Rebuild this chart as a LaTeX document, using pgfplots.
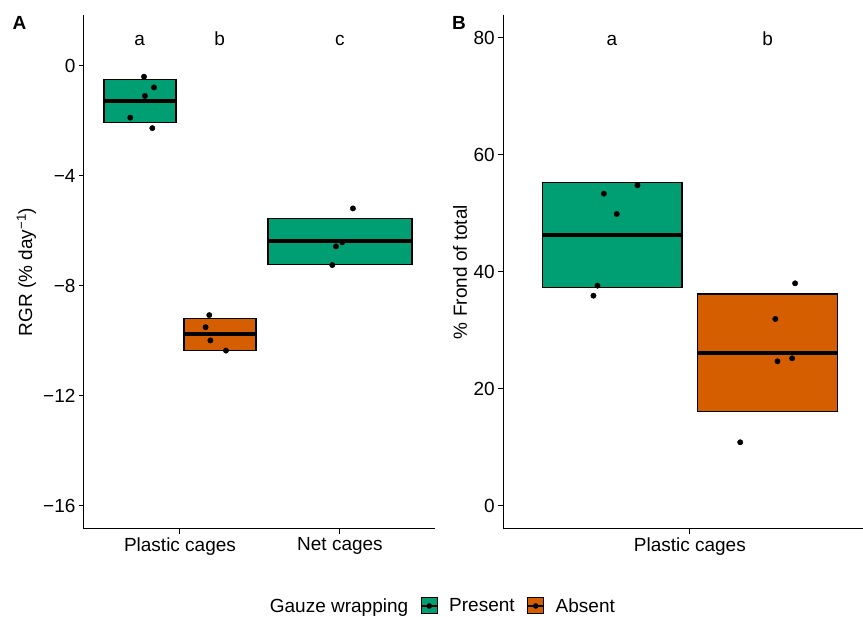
\documentclass[border=0pt]{standalone}
\usepackage{fontspec}
\setmainfont{Liberation Sans}
\usepackage{pgfplots}
\pgfplotsset{compat=1.18}
\definecolor{okgreen}{HTML}{009E73}
\definecolor{okorange}{HTML}{D55E00}
\newcommand{\fs}{\fontsize{19}{22}\selectfont}
\pgfplotsset{
  mystyle/.style={
    scale only axis, height=514pt,
    axis lines=left, axis line style={-, black, line width=1pt},
    tick align=outside, major tick length=5pt,
    tick style={black, line width=1pt},
    tick label style={font=\fs},
    /pgf/number format/assume math mode=true,
    label style={font=\fs},
    clip=false,
  },
  boxst/.style={draw=black, line width=1.2pt, forget plot},
  medst/.style={black, line width=4pt, forget plot},
  ptst/.style={only marks, mark=*, mark size=2.7pt, black, forget plot},
}
\begin{document}
\begin{tikzpicture}
\path[use as bounding box] (0,0) rectangle (863pt,617pt);
% Panel A
\begin{axis}[mystyle, at={(84pt,88pt)}, anchor=south west, width=351pt,
  xmin=0.4, xmax=2.594, ymin=-16.847, ymax=1.844,
  xtick={1,2}, xticklabels={Plastic cages,Net cages},
  ytick={-16,-12,-8,-4,0}, yticklabels={−16,−12,−8,−4,0},
  ylabel={RGR (\% day\textsuperscript{−1})},
  ylabel style={at={(axis description cs:-0.164,0.5)}, anchor=center},
  legend style={at={(axis description cs:1.021,-0.1498)}, anchor=center,
    draw=none, fill=none, legend columns=3, font=\fs,
    /tikz/every even column/.append style={column sep=10pt}},
]
% Plastic, present
\addplot[boxst, fill=okgreen] coordinates {(0.525,-0.51) (0.975,-0.51) (0.975,-2.07) (0.525,-2.07)} -- cycle;
\addplot[medst] coordinates {(0.525,-1.27) (0.975,-1.27)};
\addplot[ptst] coordinates {(0.775,-0.40) (0.8375,-0.79) (0.781,-1.10) (0.689,-1.89) (0.827,-2.27)};
% Plastic, absent
\addplot[boxst, fill=okorange] coordinates {(1.025,-9.19) (1.475,-9.19) (1.475,-10.36) (1.025,-10.36)} -- cycle;
\addplot[medst] coordinates {(1.025,-9.76) (1.475,-9.76)};
\addplot[ptst] coordinates {(1.183,-9.07) (1.160,-9.51) (1.19,-9.99) (1.2875,-10.36)};
% Net, present
\addplot[boxst, fill=okgreen] coordinates {(1.55,-5.55) (2.45,-5.55) (2.45,-7.22) (1.55,-7.22)} -- cycle;
\addplot[medst] coordinates {(1.55,-6.36) (2.45,-6.36)};
\addplot[ptst] coordinates {(2.081,-5.19) (2.014,-6.42) (1.975,-6.57) (1.952,-7.25)};
% letters
\node[font=\fs, anchor=base] at (axis cs:0.748,0.727) {a};
\node[font=\fs, anchor=base] at (axis cs:1.248,0.727) {b};
\node[font=\fs, anchor=base] at (axis cs:2.0,0.727) {c};
% legend
\addlegendimage{empty legend}
\addlegendentry{Gauze wrapping}
\addlegendimage{legend image code/.code={
  \path[draw=none, fill=none] (0pt,-8pt) rectangle (26pt,8pt);
  \draw[fill=okgreen, draw=black, line width=1pt] (0pt,-8pt) rectangle (16pt,8pt);
  \draw[black, line width=2pt] (0pt,0pt) -- (16pt,0pt);
  \fill[black] (8pt,0pt) circle (2.5pt);}}
\addlegendentry{Present}
\addlegendimage{legend image code/.code={
  \path[draw=none, fill=none] (0pt,-8pt) rectangle (26pt,8pt);
  \draw[fill=okorange, draw=black, line width=1pt] (0pt,-8pt) rectangle (16pt,8pt);
  \draw[black, line width=2pt] (0pt,0pt) -- (16pt,0pt);
  \fill[black] (8pt,0pt) circle (2.5pt);}}
\addlegendentry{Absent}
\end{axis}
% Panel B
\begin{axis}[mystyle, at={(503.3pt,88pt)}, anchor=south west, width=359.7pt,
  xmin=0.4, xmax=1.557, ymin=-3.93, ymax=83.86,
  xtick={1}, xticklabels={Plastic cages},
  ytick={0,20,40,60,80},
  ylabel={\% Frond of total},
  ylabel style={at={(axis description cs:-0.120,0.5)}, anchor=center},
]
\addplot[boxst, fill=okgreen] coordinates {(0.525,55.2) (0.975,55.2) (0.975,37.35) (0.525,37.35)} -- cycle;
\addplot[medst] coordinates {(0.525,46.3) (0.975,46.3)};
\addplot[ptst] coordinates {(0.8315,54.77) (0.7235,53.34) (0.765,49.87) (0.703,37.63) (0.690,35.92)};
\addplot[boxst, fill=okorange] coordinates {(1.025,36.21) (1.475,36.21) (1.475,16.11) (1.025,16.11)} -- cycle;
\addplot[medst] coordinates {(1.025,26.18) (1.475,26.18)};
\addplot[ptst] coordinates {(1.3386,38.03) (1.275,31.94) (1.282,24.71) (1.329,25.22) (1.162,10.88)};
\node[font=\fs, anchor=base] at (axis cs:0.749,78.6) {a};
\node[font=\fs, anchor=base] at (axis cs:1.25,78.6) {b};
\end{axis}
\node[font=\fontsize{19}{22}\selectfont\bfseries] at (19.5pt,594pt) {A};
\node[font=\fontsize{19}{22}\selectfont\bfseries] at (459pt,594pt) {B};
\end{tikzpicture}
\end{document}
